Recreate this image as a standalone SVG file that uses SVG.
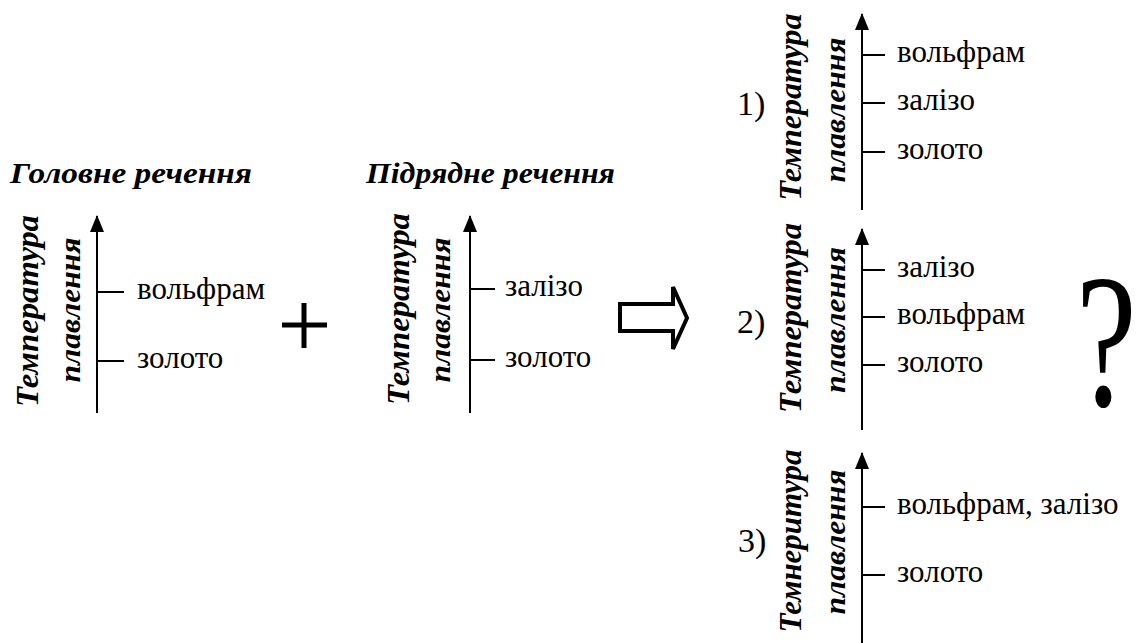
<svg xmlns="http://www.w3.org/2000/svg" width="1144" height="643" viewBox="0 0 1144 643">
<style>
text{font-family:"Liberation Serif","Times New Roman",Times,Tinos,"DejaVu Serif","Noto Serif",serif;fill:#000}
.ax{stroke:#000;stroke-width:2;fill:none}
.tk{stroke:#000;stroke-width:2}
.lb{font-size:31px}
.rl{font-size:31px;font-weight:bold;font-style:italic}
.rl2{font-size:29px;font-weight:bold;font-style:italic}
.hd{font-size:30px;font-weight:bold;font-style:italic}
.num{font-size:34px}
.q{font-size:190px}
</style>
<defs>
<marker id="ah" markerWidth="14" markerHeight="17" refX="7" refY="1" orient="0" markerUnits="userSpaceOnUse">
<path d="M7 0 L14 17 L0 17 Z" fill="#000"/>
</marker>
</defs>
<g id="header1"><text class="hd" x="10" y="183" textLength="242" lengthAdjust="spacingAndGlyphs">Головне  речення</text></g>
<g id="header2"><text class="hd" x="366" y="183" textLength="249" lengthAdjust="spacingAndGlyphs">Підрядне речення</text></g>
<g id="panel-main">
<line class="ax" x1="97" y1="413" x2="97" y2="216" marker-end="url(#ah)"/>
<line class="tk" x1="97" y1="292" x2="124" y2="292"/>
<line class="tk" x1="97" y1="361" x2="124" y2="361"/>
<text class="lb" x="137" y="299">вольфрам</text>
<text class="lb" x="137" y="368">золото</text>
<text class="rl" transform="translate(38 311) rotate(-90)" text-anchor="middle" textLength="192" lengthAdjust="spacingAndGlyphs">Температура</text>
<text class="rl2" transform="translate(80 310) rotate(-90)" text-anchor="middle" textLength="145" lengthAdjust="spacingAndGlyphs">плавлення</text>
</g>
<g id="plus">
<path d="M282 325 H327 M304 303 V348" stroke="#000" stroke-width="5"/>
</g>
<g id="panel-sub">
<line class="ax" x1="470" y1="413" x2="470" y2="216" marker-end="url(#ah)"/>
<line class="tk" x1="470" y1="289" x2="495" y2="289"/>
<line class="tk" x1="470" y1="360" x2="495" y2="360"/>
<text class="lb" x="505" y="296">залізо</text>
<text class="lb" x="505" y="367">золото</text>
<text class="rl" transform="translate(409 309) rotate(-90)" text-anchor="middle" textLength="192" lengthAdjust="spacingAndGlyphs">Температура</text>
<text class="rl2" transform="translate(450 310) rotate(-90)" text-anchor="middle" textLength="145" lengthAdjust="spacingAndGlyphs">плавлення</text>
</g>
<g id="connectors">
<path d="M620 304 H673 V287 L687 318 L673 349 V331 H620 Z" fill="none" stroke="#000" stroke-width="4" stroke-linejoin="miter"/>
</g>
<g id="option1">
<text class="num" x="737" y="115">1)</text>
<line class="ax" x1="862" y1="210" x2="862" y2="14" marker-end="url(#ah)"/>
<line class="tk" x1="862" y1="55" x2="885" y2="55"/>
<line class="tk" x1="862" y1="103" x2="885" y2="103"/>
<line class="tk" x1="862" y1="152" x2="885" y2="152"/>
<text class="lb" x="897" y="62">вольфрам</text>
<text class="lb" x="897" y="110">залізо</text>
<text class="lb" x="897" y="159">золото</text>
<text class="rl" transform="translate(801 107) rotate(-90)" text-anchor="middle" textLength="187" lengthAdjust="spacingAndGlyphs">Температура</text>
<text class="rl2" transform="translate(845 110) rotate(-90)" text-anchor="middle" textLength="145" lengthAdjust="spacingAndGlyphs">плавлення</text>
</g>
<g id="option2">
<text class="num" x="737" y="333">2)</text>
<line class="ax" x1="862" y1="430" x2="862" y2="229" marker-end="url(#ah)"/>
<line class="tk" x1="862" y1="270" x2="885" y2="270"/>
<line class="tk" x1="862" y1="317" x2="885" y2="317"/>
<line class="tk" x1="862" y1="365" x2="885" y2="365"/>
<text class="lb" x="897" y="277">залізо</text>
<text class="lb" x="897" y="324">вольфрам</text>
<text class="lb" x="897" y="372">золото</text>
<text class="rl" transform="translate(801 318) rotate(-90)" text-anchor="middle" textLength="190" lengthAdjust="spacingAndGlyphs">Температура</text>
<text class="rl2" transform="translate(845 320) rotate(-90)" text-anchor="middle" textLength="146" lengthAdjust="spacingAndGlyphs">плавлення</text>
</g>
<g id="question"><text class="q" transform="translate(1076 405) scale(0.72 1)" x="0" y="0">?</text></g>
<g id="option3">
<text class="num" x="738" y="552">3)</text>
<line class="ax" x1="862" y1="643" x2="862" y2="453" marker-end="url(#ah)"/>
<line class="tk" x1="862" y1="507" x2="885" y2="507"/>
<line class="tk" x1="862" y1="575" x2="885" y2="575"/>
<text class="lb" x="897" y="514">вольфрам, залізо</text>
<text class="lb" x="897" y="582">золото</text>
<text class="rl" transform="translate(801 541) rotate(-90)" text-anchor="middle" textLength="183" lengthAdjust="spacingAndGlyphs">Темнеритура</text>
<text class="rl2" transform="translate(845 542) rotate(-90)" text-anchor="middle" textLength="145" lengthAdjust="spacingAndGlyphs">плавлення</text>
</g>
</svg>
